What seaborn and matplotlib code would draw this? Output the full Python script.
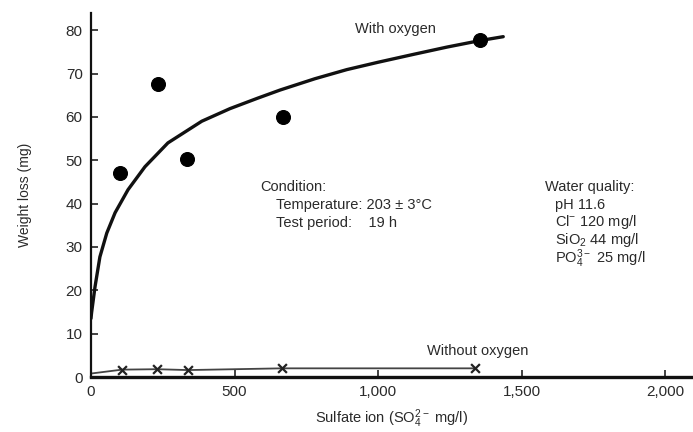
import matplotlib
matplotlib.use("Agg")
import matplotlib.pyplot as plt
import seaborn as sns
import pandas as pd

# ---- data ----
sulfate_o2 = [100, 233, 334, 669, 1355]
loss_o2 = [47.0, 67.5, 50.3, 60.0, 77.8]

sulfate_no_o2 = [108, 230, 338, 665, 1338]
loss_no_o2 = [1.7, 1.8, 1.6, 2.0, 2.0]

# no-oxygen trend line (starts at the origin side)
trend_no_x = [0, 108, 230, 338, 665, 1338]
trend_no_y = [0.8, 1.7, 1.8, 1.6, 2.0, 2.0]

# fitted curve (with oxygen)
curve_x = [0, 2, 14, 31, 55, 84, 129, 188, 268, 386, 484, 580, 659, 780, 891, 1000, 1122, 1240, 1355, 1436]
curve_y = [13.5, 14.8, 20.8, 27.7, 33.2, 37.9, 43.2, 48.5, 54.0, 59.0, 61.9, 64.3, 66.2, 68.8, 70.9, 72.6, 74.4, 76.1, 77.6, 78.5]

x_ticks = [0, 500, 1000, 1500, 2000]
x_tick_labels = ["0", "500", "1,000", "1,500", "2,000"]
y_ticks = [0, 10, 20, 30, 40, 50, 60, 70, 80]

sns.set_style("ticks")
plt.rcParams["font.family"] = ["Liberation Sans", "DejaVu Sans"]
plt.rcParams["mathtext.default"] = "regular"

TXT = "#2a2a2a"

fig = plt.figure(figsize=(6.93, 4.32), dpi=100)
ax = fig.add_axes([0.1313, 0.1273, 0.8687, 0.843])

df_curve = pd.DataFrame({"x": curve_x, "y": curve_y})
sns.lineplot(data=df_curve, x="x", y="y", sort=False, color="#111111", lw=2.4, ax=ax)

df_no = pd.DataFrame({"x": trend_no_x, "y": trend_no_y})
sns.lineplot(data=df_no, x="x", y="y", sort=False, color="#444444", lw=1.3, ax=ax)

df_o2 = pd.DataFrame({"x": sulfate_o2, "y": loss_o2})
sns.scatterplot(data=df_o2, x="x", y="y", color="black", s=100, marker="o",
                edgecolor="black", ax=ax, zorder=5)

df_pts_no = pd.DataFrame({"x": sulfate_no_o2, "y": loss_no_o2})
sns.scatterplot(data=df_pts_no, x="x", y="y", color="#222222", s=40, marker="x",
                linewidth=1.6, ax=ax, zorder=5)

ax.set_xlim(0, 2097)
ax.set_ylim(0, 84)
ax.set_xticks(x_ticks)
ax.set_xticklabels(x_tick_labels)
ax.set_yticks(y_ticks)
ax.tick_params(axis="both", direction="in", length=5, width=1.2, colors="#222222",
               labelsize=11, labelcolor=TXT)
ax.tick_params(axis="x", pad=6)
ax.tick_params(axis="y", pad=6)

for s in ["top", "right"]:
    ax.spines[s].set_visible(False)
ax.spines["left"].set_linewidth(1.6)
ax.spines["bottom"].set_linewidth(2.4)
ax.spines["left"].set_color("#111111")
ax.spines["bottom"].set_color("#111111")

ax.set_xlabel("Sulfate ion (SO$_4^{2-}$ mg/l)", fontsize=10.5, color=TXT, labelpad=6)
ax.set_ylabel("Weight loss (mg)", fontsize=10, color=TXT, labelpad=24)

fs = 10.5
ax.text(920, 80.3, "With oxygen", fontsize=fs, color=TXT, ha="left", va="center")
ax.text(1171, 5.9, "Without oxygen", fontsize=fs, color=TXT, ha="left", va="center")

ax.text(589, 43.9, "Condition:", fontsize=fs, color=TXT, ha="left", va="center")
ax.text(645, 39.7, "Temperature: 203 \u00b1 3\u00b0C", fontsize=fs, color=TXT, ha="left", va="center")
ax.text(645, 35.5, "Test period:    19 h", fontsize=fs, color=TXT, ha="left", va="center")

ax.text(1582, 43.9, "Water quality:", fontsize=fs, color=TXT, ha="left", va="center")
ax.text(1618, 39.7, "pH 11.6", fontsize=fs, color=TXT, ha="left", va="center")
ax.text(1618, 35.7, "Cl$^{-}$ 120 mg/l", fontsize=fs, color=TXT, ha="left", va="center")
ax.text(1618, 31.6, "SiO$_2$ 44 mg/l", fontsize=fs, color=TXT, ha="left", va="center")
ax.text(1618, 27.2, "PO$_4^{3-}$ 25 mg/l", fontsize=fs, color=TXT, ha="left", va="center")

fig.savefig("out.png", dpi=100)
